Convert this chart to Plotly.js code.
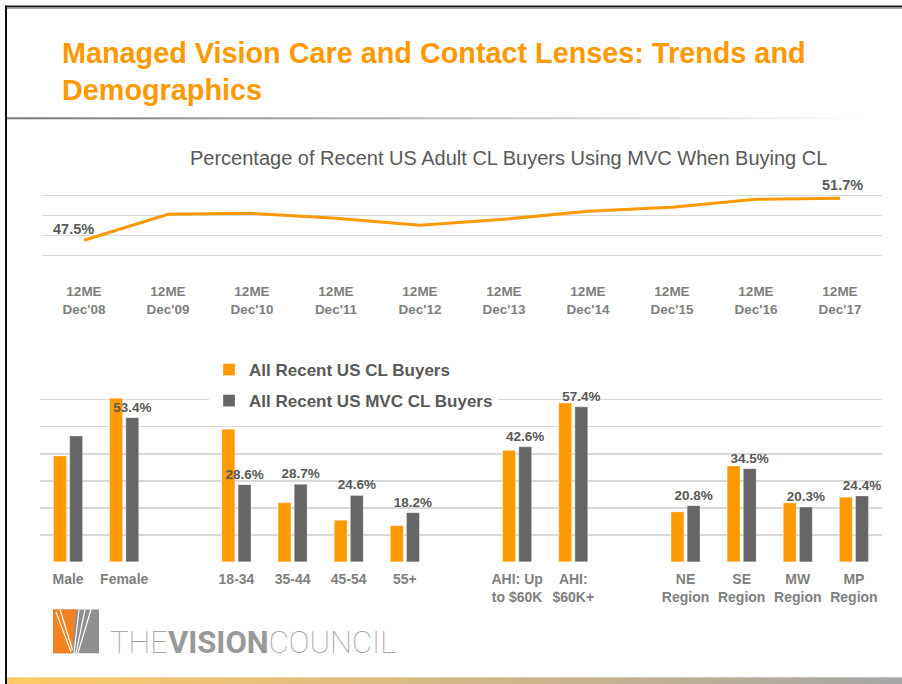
<!DOCTYPE html>
<html>
<head>
<meta charset="utf-8">
<script src="https://cdn.plot.ly/plotly-3.0.1.min.js"></script>
<style>
  html, body { margin: 0; padding: 0; background: #ffffff; }
  #chart { width: 902px; height: 684px; }
</style>
</head>
<body>
<div id="chart"></div>
<script>
// ---------- DATA ----------
const trendPeriods = ["Dec'08", "Dec'09", "Dec'10", "Dec'11", "Dec'12", "Dec'13", "Dec'14", "Dec'15", "Dec'16", "Dec'17"];
const trendPrefix = "12ME";
const trendValues = [47.5, 50.1, 50.2, 49.7, 49.0, 49.6, 50.4, 50.8, 51.6, 51.7];

const demoCategories = ["Male", "Female", "18-34", "35-44", "45-54", "55+", "AHI: Up to $60K", "AHI: $60K+", "NE Region", "SE Region", "MW Region", "MP Region"];
const demoTickLabels = ["Male", "Female", "18-34", "35-44", "45-54", "55+", "AHI: Up<br>to $60K", "AHI:<br>$60K+", "NE<br>Region", "SE<br>Region", "MW<br>Region", "MP<br>Region"];
const demoSlotOrder = ["Male", "Female", "gap1", "18-34", "35-44", "45-54", "55+", "gap2", "AHI: Up to $60K", "AHI: $60K+", "gap3", "NE Region", "SE Region", "MW Region", "MP Region"];
const allBuyers = [39.2, 60.6, 49.1, 21.9, 15.4, 13.4, 41.2, 58.8, 18.5, 35.5, 21.8, 23.9];
const mvcBuyers = [46.6, 53.4, 28.6, 28.7, 24.6, 18.2, 42.6, 57.4, 20.8, 34.5, 20.3, 24.4];
const mvcLabelShown = [false, true, true, true, true, true, true, true, true, true, true, true];

const seriesNames = ["All Recent US CL Buyers", "All Recent US MVC CL Buyers"];
const mainTitle = "Managed Vision Care and Contact Lenses: Trends and<br>Demographics";
const trendTitle = "Percentage of Recent US Adult CL Buyers Using MVC When Buying CL";
const logoText = "THE<b>VISION</b>COUNCIL";

// ---------- STYLE ----------
const W = 902, H = 684;
const X = px => px / W;
const Y = py => 1 - py / H;
const ORANGE = "#FF9900";
const DARKGRAY = "#666666";
const FONT = "Liberation Sans, Arial, sans-serif";

// ---------- TRACES ----------
const traces = [
  {
    type: "scatter", mode: "lines",
    x: trendPeriods, y: trendValues,
    xaxis: "x", yaxis: "y",
    line: { color: ORANGE, width: 3 },
    showlegend: false, hoverinfo: "skip"
  },
  {
    type: "bar", name: seriesNames[0],
    x: demoCategories, y: allBuyers,
    xaxis: "x2", yaxis: "y2",
    marker: { color: ORANGE, line: { color: "rgba(255,255,255,0.5)", width: 0.6 } },
    legendgroup: "a"
  },
  {
    type: "bar", name: seriesNames[1],
    x: demoCategories, y: mvcBuyers,
    xaxis: "x2", yaxis: "y2",
    marker: { color: DARKGRAY, line: { color: "rgba(255,255,255,0.5)", width: 0.6 } },
    text: mvcBuyers.map((v, i) => mvcLabelShown[i] ? v.toFixed(1) + "%" : ""),
    textposition: "outside",
    constraintext: "none",
    cliponaxis: false,
    textfont: { family: FONT, size: 13.5, weight: "bold", color: "#595959" },
    legendgroup: "b"
  }
];

// ---------- SHAPES (decoration) ----------
const shapes = [];
shapes.push({ type: "line", xref: "paper", yref: "paper", x0: X(5), x1: X(902), y0: Y(6.5), y1: Y(6.5), line: { color: "#1a1a1a", width: 2 } });
shapes.push({ type: "line", xref: "paper", yref: "paper", x0: X(7), x1: X(902), y0: Y(8.5), y1: Y(8.5), line: { color: "#a8a8a8", width: 1 } });
shapes.push({ type: "line", xref: "paper", yref: "paper", x0: X(6), x1: X(6), y0: Y(6), y1: Y(684), line: { color: "#111111", width: 2 } });

function lerpColor(c1, c2, t) {
  const r = Math.round(c1[0] + (c2[0] - c1[0]) * t);
  const g = Math.round(c1[1] + (c2[1] - c1[1]) * t);
  const b = Math.round(c1[2] + (c2[2] - c1[2]) * t);
  return "rgb(" + r + "," + g + "," + b + ")";
}
(function () {
  const n = 40, x0 = 7, x1 = 880;
  for (let i = 0; i < n; i++) {
    const a = x0 + (x1 - x0) * i / n, b = x0 + (x1 - x0) * (i + 1) / n;
    shapes.push({ type: "line", xref: "paper", yref: "paper", x0: X(a), x1: X(b + 0.5), y0: Y(118.3), y1: Y(118.3),
      line: { color: lerpColor([120, 120, 120], [255, 255, 255], i / (n - 1)), width: 2 } });
  }
})();
(function () {
  const n = 60, x0 = 7, x1 = 902;
  for (let i = 0; i < n; i++) {
    const a = x0 + (x1 - x0) * i / n, b = x0 + (x1 - x0) * (i + 1) / n;
    shapes.push({ type: "rect", xref: "paper", yref: "paper", x0: X(a), x1: X(b + 0.6), y0: Y(684), y1: Y(677.3),
      line: { width: 0 }, fillcolor: lerpColor([255, 202, 104], [166, 166, 166], i / (n - 1)) });
  }
})();
function pathPx(points) {
  return "M" + points.map(p => X(p[0]) + "," + Y(p[1])).join("L") + "Z";
}
shapes.push({ type: "path", xref: "paper", yref: "paper", path: pathPx([[53, 609.5], [99, 609.5], [99, 653.3], [53, 653.3]]), fillcolor: "#8f8f8f", line: { width: 0 } });
shapes.push({ type: "path", xref: "paper", yref: "paper", path: pathPx([[53, 609.5], [76, 609.5], [72, 653.3], [53, 653.3]]), fillcolor: "#F58220", line: { width: 0 } });
[[[56, 612], [71, 652]], [[60, 609.5], [72.5, 650]], [[79, 609.5], [74, 653]], [[85, 609.5], [76, 653]], [[91, 609.5], [78, 653]]].forEach(seg => {
  shapes.push({ type: "line", xref: "paper", yref: "paper", x0: X(seg[0][0]), y0: Y(seg[0][1]), x1: X(seg[1][0]), y1: Y(seg[1][1]), line: { color: "#ffffff", width: 1.2 } });
});

// ---------- ANNOTATIONS ----------
const annotations = [
  { xref: "paper", yref: "paper", x: X(508.7), y: Y(158), xanchor: "center", yanchor: "middle", showarrow: false,
    text: trendTitle, font: { family: FONT, size: 20, color: "#595959" } },
  { xref: "x", yref: "y", x: trendPeriods[0], y: trendValues[0], xshift: -10.5, yshift: 11.5, showarrow: false,
    xanchor: "center", yanchor: "middle", text: trendValues[0].toFixed(1) + "%",
    font: { family: FONT, size: 14.5, weight: "bold", color: "#595959" } },
  { xref: "x", yref: "y", x: trendPeriods[trendPeriods.length - 1], y: trendValues[trendValues.length - 1], xshift: 2.3, yshift: 13.3, showarrow: false,
    xanchor: "center", yanchor: "middle", text: trendValues[trendValues.length - 1].toFixed(1) + "%",
    font: { family: FONT, size: 14.5, weight: "bold", color: "#595959" } },
  { xref: "paper", yref: "paper", x: X(108), y: Y(642), xanchor: "left", yanchor: "middle", showarrow: false,
    text: logoText, font: { family: "Roboto, Liberation Sans Narrow, sans-serif", size: 31, weight: 100, color: "#999999" } }
];

// ---------- LAYOUT ----------
const layout = {
  width: W, height: H,
  margin: { l: 0, r: 0, t: 0, b: 0 },
  paper_bgcolor: "#ffffff", plot_bgcolor: "rgba(0,0,0,0)",
  font: { family: FONT, color: "#595959" },
  title: {
    text: mainTitle, x: X(62), xanchor: "left", xref: "container",
    y: Y(63), yanchor: "top", yref: "container",
    font: { family: FONT, size: 28.8, weight: "bold", color: ORANGE }
  },
  xaxis: {
    domain: [X(42), X(882)], anchor: "y", type: "category",
    categoryorder: "array", categoryarray: trendPeriods,
    range: [-0.5, trendPeriods.length - 0.5],
    tickmode: "array", tickvals: trendPeriods, ticktext: trendPeriods.map(p => trendPrefix + "<br>" + p),
    tickfont: { family: FONT, size: 13.5, weight: "bold", color: "#7f7f7f" },
    ticklabelstandoff: 6,
    showgrid: false, zeroline: false, showline: false, ticks: "", fixedrange: true
  },
  yaxis: {
    domain: [Y(275.5), Y(175)], anchor: "x",
    range: [43.97, 54.03], dtick: 2, tick0: 44,
    showticklabels: false, showgrid: true, gridcolor: "#d9d9d9", gridwidth: 1.3,
    zeroline: false, showline: false, ticks: "", fixedrange: true
  },
  xaxis2: {
    domain: [X(40), X(882)], anchor: "y2", type: "category",
    categoryorder: "array", categoryarray: demoSlotOrder,
    range: [-0.5, demoSlotOrder.length - 0.5],
    tickmode: "array", tickvals: demoCategories, ticktext: demoTickLabels,
    tickfont: { family: FONT, size: 14, weight: "bold", color: "#7f7f7f" },
    ticklabelstandoff: 7,
    showgrid: false, zeroline: false, showline: false, ticks: "", fixedrange: true
  },
  yaxis2: {
    domain: [Y(562), Y(372.7)], anchor: "x2",
    range: [-0.05, 70.05], dtick: 10, tick0: 0,
    showticklabels: false, showgrid: true, gridcolor: "#d9d9d9", gridwidth: 1.3,
    zeroline: false, showline: false, ticks: "", fixedrange: true
  },
  barmode: "group", bargap: 0.425, bargroupgap: 0.204,
  showlegend: true,
  legend: {
    x: X(209), xanchor: "left", y: Y(352), yanchor: "top",
    bgcolor: "#ffffff", borderwidth: 0,
    traceorder: "grouped", tracegroupgap: 6,
    font: { family: FONT, size: 17, weight: "bold", color: "#595959" }
  },
  shapes: shapes,
  annotations: annotations
};

Plotly.newPlot("chart", traces, layout, { displayModeBar: false, staticPlot: true });
</script>
</body>
</html>
